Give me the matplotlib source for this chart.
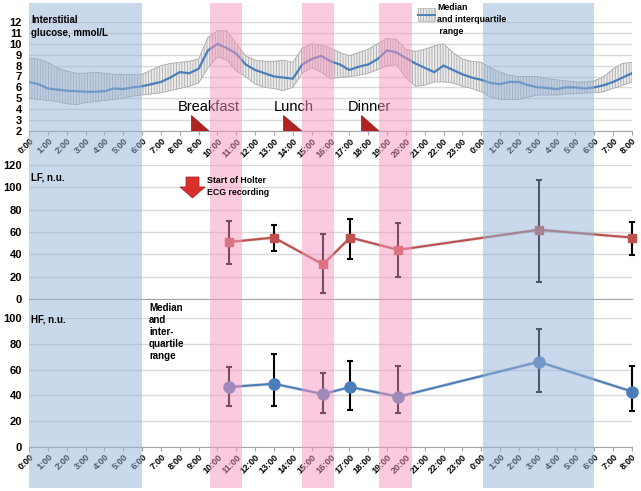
import numpy as np
import matplotlib
matplotlib.use("Agg")
import matplotlib.pyplot as plt
from matplotlib.patches import Polygon, Rectangle
from matplotlib.lines import Line2D

plt.rcParams['font.family'] = ['Liberation Sans', 'DejaVu Sans']
plt.rcParams['hatch.linewidth'] = 0.6

# ---- data ----
hours = np.arange(0, 32.5, 0.5)
glu_median = [6.5, 6.3, 5.9, 5.8, 5.7, 5.65, 5.6, 5.6, 5.65, 5.9, 5.85, 6.0, 6.1,
              6.3, 6.5, 6.9, 7.4, 7.3, 7.7, 9.4, 10.0, 9.6, 9.1, 8.1, 7.6, 7.3,
              7.0, 6.9, 6.8, 8.1, 8.6, 8.9, 8.4, 8.1, 7.6, 7.9, 8.1, 8.6, 9.4,
              9.2, 8.7, 8.2, 7.8, 7.4, 8.0, 7.6, 7.2, 6.9, 6.7, 6.4, 6.3, 6.5,
              6.5, 6.2, 6.0, 5.95, 5.85, 6.0, 6.0, 5.9, 6.0, 6.2, 6.5, 6.9, 7.3]
glu_q3 = [8.7, 8.6, 8.3, 7.8, 7.5, 7.3, 7.3, 7.4, 7.3, 7.2, 7.2, 7.2, 7.2,
          7.6, 8.0, 8.2, 8.3, 8.4, 8.6, 10.6, 11.2, 11.2, 10.0, 8.9, 8.5, 8.4,
          8.4, 8.5, 8.3, 9.6, 10.0, 9.9, 9.6, 9.2, 8.9, 9.2, 9.5, 10.0, 10.5,
          10.4, 9.5, 9.3, 9.5, 9.8, 10.0, 9.2, 8.6, 8.4, 8.3, 7.8, 7.4, 7.1,
          7.0, 7.0, 7.0, 6.8, 6.7, 6.6, 6.5, 6.5, 6.6, 7.0, 7.7, 8.2, 8.3]
glu_q1 = [5.0, 4.9, 4.8, 4.7, 4.5, 4.4, 4.6, 4.7, 4.8, 4.9, 5.0, 5.2, 5.3,
          5.4, 5.5, 5.7, 5.9, 6.1, 6.4, 7.8, 8.8, 8.5, 7.5, 7.0, 6.3, 6.0,
          5.9, 5.7, 6.0, 7.3, 7.8, 7.4, 6.8, 6.9, 7.0, 7.1, 7.3, 7.6, 8.0,
          8.1, 6.9, 6.1, 6.2, 6.5, 6.5, 6.4, 6.1, 5.9, 5.6, 5.1, 4.9, 4.9,
          4.9, 5.1, 5.3, 5.3, 5.3, 5.4, 5.4, 5.5, 5.5, 5.6, 5.9, 6.2, 6.5]

hrv_time = [10.6, 13.0, 15.6, 17.05, 19.6, 27.05, 32.0]
lf_median = [51, 55, 31, 55, 44, 62, 55]
lf_q1 = [31, 43, 5, 36, 20, 15, 39]
lf_q3 = [70, 66, 58, 72, 68, 107, 69]
hf_median = [46.5, 49, 41, 46.5, 39, 66, 43]
hf_q1 = [32, 32, 26, 29, 26, 43, 28]
hf_q3 = [62, 72, 57, 67, 63, 91.5, 63]

meals = ["Breakfast", "Lunch", "Dinner"]
meal_time = [8.6, 13.5, 17.6]
meal_label_x = [9.52, 14.04, 18.05]
night_spans = [(0, 6), (24.1, 30)]
meal_spans = [(9.63, 11.28), (14.5, 16.2), (18.6, 20.3)]
tick_labels = [f"{h % 24}:00" for h in range(33)]

BLUE = '#4A7EBB'
RED = '#C0504D'
GRID = '#D9D9D9'

fig = plt.figure(figsize=(6.41, 4.91), dpi=100)
L = 29 / 641
W = (632 - 29) / 641


def fy(px):
    return 1 - px / 491


ax_g = fig.add_axes([L, fy(131), W, fy(22) - fy(131)])
ax_lf = fig.add_axes([L, fy(299), W, fy(165) - fy(299)])
ax_hf = fig.add_axes([L, fy(447), W, fy(318) - fy(447)])

for ax in (ax_g, ax_lf, ax_hf):
    ax.set_xlim(0, 32)
    ax.set_xticks(range(33))
    for s in ('left', 'right', 'top'):
        ax.spines[s].set_visible(False)
    ax.spines['bottom'].set_color('#A6A6A6')
    ax.grid(axis='y', color=GRID, lw=1)
    ax.set_axisbelow(True)
    ax.tick_params(axis='y', length=0, pad=5, labelsize=8)
    ax.tick_params(axis='x', length=3, color='#A6A6A6', labelsize=6.5, pad=1)

# glucose panel
ax_g.set_ylim(2, 12)
ax_g.set_yticks(range(2, 13))
ax_g.set_yticklabels([str(v) for v in range(2, 13)], fontweight='bold')
ax_g.fill_between(hours, glu_q1, glu_q3, facecolor='#EBEBEB',
                  edgecolor='#ABABAB', hatch='||||||', lw=0)
ax_g.plot(hours, glu_q3, color='#A8A8A8', lw=0.6)
ax_g.plot(hours, glu_q1, color='#A8A8A8', lw=0.6)
ax_g.plot(hours, glu_median, color=BLUE, lw=1.6)
for name, t, lx in zip(meals, meal_time, meal_label_x):
    ax_g.add_patch(Polygon([[t, 3.47], [t, 2.0], [t + 0.97, 2.0]],
                           closed=True, facecolor='#B22222',
                           edgecolor='#8B1A1A', lw=0.5, zorder=4))
    ax_g.text(lx, 4.2, name, ha='center', va='center', fontsize=10.5)

# LF panel
ax_lf.set_ylim(0, 120)
ax_lf.set_yticks(range(0, 121, 20))
ax_lf.set_yticklabels([str(v) for v in range(0, 121, 20)], fontweight='bold')
ax_lf.tick_params(axis='x', labelbottom=False, length=0)
lf_err = [np.subtract(lf_median, lf_q1), np.subtract(lf_q3, lf_median)]
eb = ax_lf.errorbar(hrv_time, lf_median, yerr=lf_err, fmt='none', ecolor='black',
                    elinewidth=1.5, capsize=2.5, capthick=1.5, zorder=3)
for art in eb.lines[1] + eb.lines[2]:
    art.set_clip_on(False)
ax_lf.plot(hrv_time, lf_median, color='#9E9E9E', lw=2.5, alpha=0.35, zorder=3.5)
ax_lf.plot(hrv_time, lf_median, color=RED, lw=1.5, marker='s', ms=5.5,
           mfc=RED, mec=RED, zorder=4, clip_on=False)

# HF panel
ax_hf.set_ylim(0, 100)
ax_hf.set_yticks(range(0, 101, 20))
ax_hf.set_yticklabels([str(v) for v in range(0, 101, 20)], fontweight='bold')
hf_err = [np.subtract(hf_median, hf_q1), np.subtract(hf_q3, hf_median)]
eb = ax_hf.errorbar(hrv_time, hf_median, yerr=hf_err, fmt='none', ecolor='black',
                    elinewidth=1.5, capsize=2.5, capthick=1.5, zorder=3)
for art in eb.lines[1] + eb.lines[2]:
    art.set_clip_on(False)
ax_hf.plot(hrv_time, hf_median, color='#9E9E9E', lw=2.5, alpha=0.35, zorder=3.5)
ax_hf.plot(hrv_time, hf_median, color=BLUE, lw=1.5, marker='o', ms=8,
           mfc=BLUE, mec=BLUE, zorder=4, clip_on=False)

for ax in (ax_g, ax_hf):
    ax.set_xticklabels(tick_labels, rotation=45, ha='right', va='top',
                       rotation_mode='anchor', fontweight='bold')

# shaded bands over everything
ov = fig.add_axes([L, fy(488), W, fy(3) - fy(488)], zorder=5)
ov.axis('off')
ov.set_xlim(0, 32)
ov.set_ylim(0, 1)
for a, b in night_spans:
    ov.axvspan(a, b, color='#95B3D7', alpha=0.5, lw=0)
for a, b in meal_spans:
    ov.axvspan(a, b, color='#F696BE', alpha=0.5, lw=0)

# labels
kw = dict(fontweight='bold', fontsize=7, va='top', ha='left', zorder=10)
fig.text(31 / 641, fy(15), "Interstitial\nglucose, mmol/L", linespacing=1.4, **kw)
fig.text(31 / 641, fy(173), "LF, n.u.", **kw)
fig.text(31 / 641, fy(315), "HF, n.u.", **kw)
fig.text(149 / 641, fy(303), "Median\nand\ninter-\nquartile\nrange", linespacing=1.25, **kw)
fig.text(207 / 641, fy(176), "Start of Holter\nECG recording",
         fontweight='bold', fontsize=6.3, va='top', ha='left', linespacing=1.5, zorder=10)
fig.text(437 / 641, fy(3), "Median\nand interquartile\n range",
         fontweight='bold', fontsize=6.3, va='top', ha='left', linespacing=1.4, zorder=10)

# legend key
fig.add_artist(Rectangle((418 / 641, fy(21)), 17 / 641, 13 / 491,
                         transform=fig.transFigure, facecolor='#EBEBEB',
                         edgecolor='#ABABAB', hatch='||||||', lw=0.5, zorder=10))
fig.add_artist(Line2D([418 / 641, 435 / 641], [fy(15), fy(15)],
                      transform=fig.transFigure, color=BLUE, lw=1.4, zorder=11))

# Holter start arrow
arrow = [(186, 177), (199, 177), (199, 187), (205, 187), (192.5, 198),
         (180, 187), (186, 187)]
fig.add_artist(Polygon([(x / 641, fy(y)) for x, y in arrow], closed=True,
                       transform=fig.transFigure, facecolor='#D9302C',
                       edgecolor='#A02020', lw=0.5, zorder=10))

fig.savefig("out.png", dpi=100)
